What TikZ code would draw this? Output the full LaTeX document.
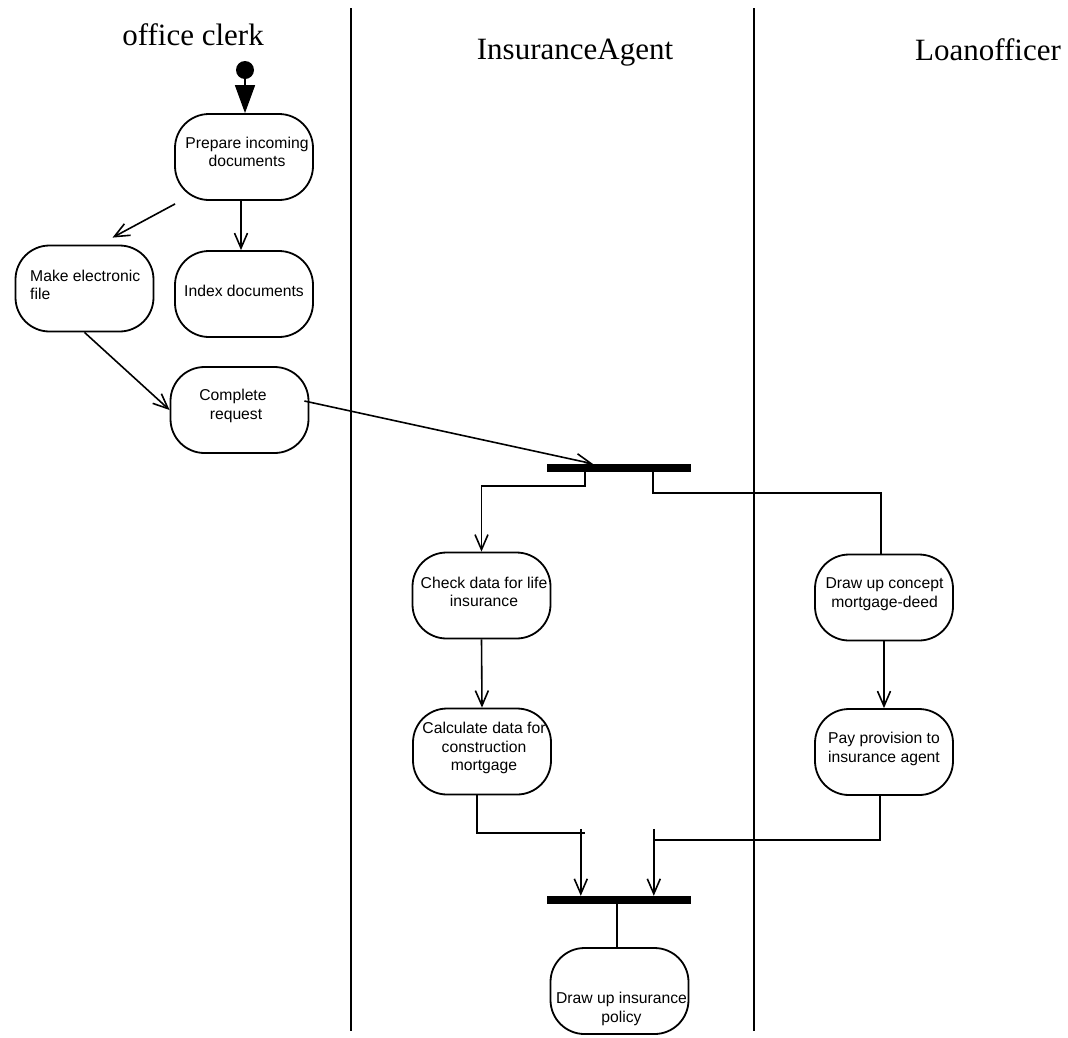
\documentclass[tikz,border=0pt]{standalone}
\usepackage{fontspec}
\setmainfont{Liberation Serif}
\newfontfamily\boxfont{Liberation Sans}
\usetikzlibrary{arrows.meta,calc}

\begin{document}
\begin{tikzpicture}[x=1pt,y=-1pt,
  lane/.style={line width=2pt},
  title/.style={font=\fontsize{31}{36}\selectfont, inner sep=0},
  actbox/.style={draw, line width=1.8pt, rounded corners=34pt, inner sep=0,
                 minimum width=138pt, minimum height=86pt},
  acttext/.style={font=\boxfont\fontsize{15.7}{18.5}\selectfont, align=center, inner sep=0},
  flow/.style={line width=1.6pt},
  arr/.style={flow, -{Straight Barb[length=15pt,width=13pt,line width=1.6pt]}},
  syncbar/.style={fill=black, inner sep=0, minimum width=144pt, minimum height=8pt}
]
\useasboundingbox (0,0) rectangle (1068,1037);

% swimlane separators
\draw[lane] (351,8) -- (351,1031);
\draw[lane] (754,8) -- (754,1031);

% swimlane titles
\node[title, anchor=base east] (tclerk) at (264,45) {office clerk};
\node[title, anchor=base] (tagent) at (575,59) {InsuranceAgent};
\node[title, anchor=base] (tloan) at (988,60) {Loanofficer};

% initial state
\node[circle, fill=black, inner sep=0, minimum size=18pt] (start) at (245,70) {};

% activities
\node[actbox] (p1)   at (244,157)   {};
\node[acttext] (p1t) at (247,152) {Prepare incoming\\documents};
\node[actbox] (idx)  at (244,294)   {};
\node[acttext] (idxt) at (244,291) {Index documents};
\node[actbox] (mk)   at (84.5,288.5) {};
\node[acttext, align=left, anchor=west] (mkt) at (30,285) {Make electronic\\file};
\node[actbox] (cr)   at (239.5,410) {};
\node[acttext] (crt) at (233,406) {Complete\\\hspace*{6pt}request};
\node[actbox] (chk)  at (481.5,595.5) {};
\node[acttext] (chkt) at (484,592) {Check data for life\\insurance};
\node[actbox] (calc) at (482,751.5) {};
\node[acttext] (calct) at (484,748) {Calculate data for\\construction\\mortgage};
\node[actbox] (con)  at (884,597.5) {};
\node[acttext] (cont) at (884.5,594) {Draw up concept\\mortgage-deed};
\node[actbox] (pay)  at (884,752) {};
\node[acttext] (payt) at (884,749) {Pay provision to\\insurance agent};
\node[actbox] (pol)  at (619.5,991) {};
\node[acttext] (polt) at (621.5,1009) {Draw up insurance\\policy};

% fork and join bars
\node[syncbar] (fork) at (619,468) {};
\node[syncbar] (join) at (619,900) {};

% transitions
\draw[flow, -{Triangle[length=28pt,width=20pt]}] (start) -- (start |- p1.north);
\draw[arr] ($(p1.south)+(-3,0)$) -- ($(idx.north)+(-3,0)$);
\coordinate (mkfrom) at ($(p1.south west)+(1,3)$);
\coordinate (mkto) at ($(mk.north)+(28,-7)$);
\draw[arr] (mkfrom) -- (mkto);
\draw[arr] (mk.south) -- (cr.west);
\coordinate (crout) at ($(cr.east)+(-5,-9)$);
\draw[arr] (crout) -- ($(fork.north west)+(46,0)$);

\draw[arr] ($(fork.south west)+(38,0)$) -- ++(0,14) -| (chk.north);
\draw[flow] ($(fork.south west)+(106,0)$) -- ++(0,21) -| ($(con.north)+(-3,0)$);
\draw[arr] (chk.south) -- (calc.north);
\draw[arr] (con.south) -- (pay.north);

\coordinate (jl) at ($(join.north west)+(34,-67)$);
\coordinate (jr) at ($(join.north west)+(107,-67)$);
\draw[flow] ($(calc.south)+(-5,0)$) |- ($(jl)+(4,4)$);
\draw[arr] (jl) -- (jl |- join.north);
\draw[flow] ($(pay.south)+(-4,0)$) |- ($(jr)+(0,11)$);
\draw[arr] (jr) -- (jr |- join.north);
\draw[flow] ($(join.south)+(-2,0)$) -- ($(pol.north)+(-2.5,0)$);
\end{tikzpicture}
\end{document}
